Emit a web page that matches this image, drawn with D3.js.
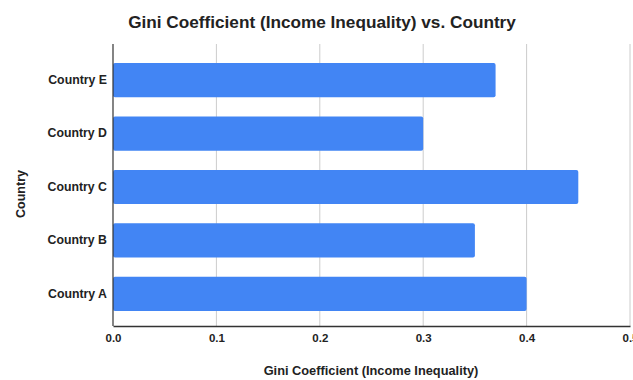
<!DOCTYPE html>
<html>
<head>
<meta charset="utf-8">
<script src="https://cdn.jsdelivr.net/npm/d3@7"></script>
<style>
  html, body { margin: 0; padding: 0; background: #fff; }
  svg { display: block; font-family: "Liberation Sans", Arial, sans-serif; }
</style>
</head>
<body>
<svg id="chart" width="633" height="380"></svg>
<script>
// Gini coefficient by country
const countries = ["Country A", "Country B", "Country C", "Country D", "Country E"];
const giniValues = [0.40, 0.35, 0.45, 0.30, 0.37];
const xTickValues = [0, 0.1, 0.2, 0.3, 0.4, 0.5];

const svg = d3.select("#chart");
const margin = { left: 113, right: 3, top: 48, bottom: 54 };
const gridTop = 44;
const W = 633, H = 380;
const FONT = "Liberation Sans, Arial, sans-serif";

const x = d3.scaleLinear().domain([0, 0.5]).range([margin.left, W - margin.right]);
// Country E at the top, Country A at the bottom
const y = d3.scaleBand()
  .domain(countries.slice().reverse())
  .range([margin.top, H - margin.bottom])
  .paddingInner(0.36)
  .paddingOuter(0.28);

// vertical gridlines
svg.append("g")
  .selectAll("line")
  .data(xTickValues.slice(1))
  .join("line")
  .attr("x1", d => x(d)).attr("x2", d => x(d))
  .attr("y1", gridTop).attr("y2", H - margin.bottom)
  .attr("stroke", "#cccccc").attr("stroke-width", 1);

// bars
svg.append("g")
  .selectAll("rect")
  .data(countries)
  .join("rect")
  .attr("x", x(0))
  .attr("y", d => y(d))
  .attr("width", (d, i) => x(giniValues[i]) - x(0))
  .attr("height", y.bandwidth())
  .attr("rx", 2)
  .attr("fill", "#4285f4");

// x axis
const xAxis = d3.axisBottom(x).tickValues(xTickValues).tickFormat(d3.format(".1f")).tickSize(0).tickPadding(8);
const gx = svg.append("g").attr("transform", `translate(0,${H - margin.bottom})`).call(xAxis);
gx.select(".domain").attr("stroke", "#333").attr("stroke-width", 1.5);
gx.selectAll("text").attr("font-size", 11.5).attr("font-weight", "bold").attr("fill", "#222")
  .attr("font-family", FONT);

// y axis
const yAxis = d3.axisLeft(y).tickSize(0).tickPadding(6);
const gy = svg.append("g").attr("transform", `translate(${margin.left},0)`).call(yAxis);
gy.select(".domain").attr("stroke", "#333").attr("stroke-width", 1.2)
  .attr("d", `M0,${gridTop}V${H - margin.bottom}`);
gy.selectAll("text").attr("font-size", 12.3).attr("font-weight", "bold").attr("fill", "#222")
  .attr("font-family", FONT);

// title
svg.append("text")
  .attr("x", 322).attr("y", 28)
  .attr("text-anchor", "middle")
  .attr("font-size", 17.2).attr("font-weight", "bold").attr("fill", "#222")
  .text("Gini Coefficient (Income Inequality) vs. Country");

// axis titles
svg.append("text")
  .attr("x", 371).attr("y", 375)
  .attr("text-anchor", "middle")
  .attr("font-size", 12.8).attr("font-weight", "bold").attr("fill", "#222")
  .text("Gini Coefficient (Income Inequality)");

svg.append("text")
  .attr("transform", "translate(25,194) rotate(-90)")
  .attr("text-anchor", "middle")
  .attr("font-size", 12.5).attr("font-weight", "bold").attr("fill", "#222")
  .text("Country");
</script>
</body>
</html>
